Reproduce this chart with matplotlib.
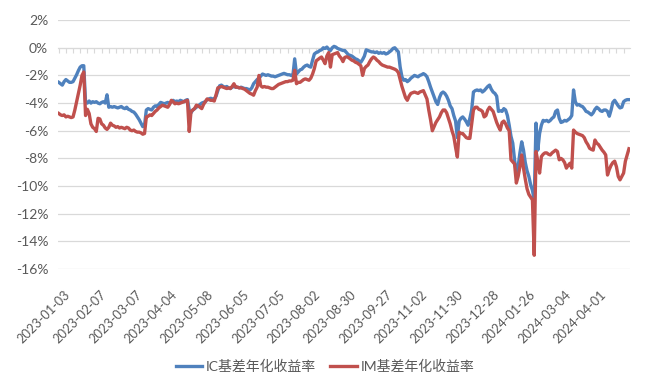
import matplotlib
matplotlib.use('Agg')
import matplotlib.pyplot as plt
import matplotlib.transforms as mtransforms
import numpy as np

plt.rcParams['font.family'] = ['Lato', 'Noto Sans CJK SC', 'DejaVu Sans']

# tick labels every 20 trading days
date_labels = ['2023-01-03', '2023-02-07', '2023-03-07', '2023-04-04', '2023-05-08',
               '2023-06-05', '2023-07-05', '2023-08-02', '2023-08-30', '2023-09-27',
               '2023-11-02', '2023-11-30', '2023-12-28', '2024-01-26', '2024-03-04',
               '2024-04-01']

# IC basis annualised return (%), one value per trading day
ic = [
    -2.5, -2.6, -2.7, -2.45, -2.3, -2.4, -2.5, -2.5, -2.45, -2.2,
    -1.95, -1.65, -1.4, -1.3, -1.3, -3.95, -4.0, -3.85, -4.0, -3.9,
    -3.95, -3.9, -4.0, -4.05, -3.95, -3.9, -4.0, -3.4, -4.3, -4.25,
    -4.3, -4.25, -4.3, -4.35, -4.3, -4.25, -4.35, -4.4, -4.3, -4.45,
    -4.5, -4.6, -4.65, -4.8, -5.0, -5.2, -5.45, -5.7, -5.6, -4.5,
    -4.4, -4.45, -4.5, -4.3, -4.2, -4.25, -4.1, -3.95, -4.0, -4.05,
    -4.0, -3.95, -4.05, -3.9, -3.8, -3.9, -3.85, -3.9, -3.8, -3.85,
    -3.9, -3.8, -3.75, -4.5, -4.7, -4.5, -4.4, -4.3, -4.2, -4.1,
    -4.0, -3.95, -3.9, -3.75, -3.7, -3.65, -3.7, -3.7, -3.5, -3.1,
    -2.75, -2.7, -2.8, -2.85, -2.8, -2.9, -2.95, -2.85, -2.8, -2.85,
    -2.85, -2.9, -2.85, -2.9, -2.95, -2.95, -3.0, -3.05, -2.9, -2.6,
    -2.45, -2.3, -2.2, -2.05, -1.9, -1.95, -2.0, -1.95, -2.0, -2.05,
    -2.05, -2.1, -2.05, -2.0, -1.95, -1.9, -1.85, -1.9, -1.95, -1.95,
    -2.0, -2.0, -0.8, -1.9, -1.75, -1.6, -1.55, -1.4, -1.3, -1.25,
    -1.35, -1.4, -0.9, -0.45, -0.35, -0.3, -0.2, -0.15, 0.0, -0.05,
    0.05, -0.1, -0.2, 0.0, 0.1, 0.05, -0.05, -0.1, -0.15, -0.2,
    -0.2, -0.35, -0.5, -0.55, -0.6, -0.7, -0.8, -0.85, -0.95, -1.05,
    -0.85, -0.6, -0.15, -0.2, -0.25, -0.3, -0.3, -0.35, -0.3, -0.4,
    -0.35, -0.4, -0.35, -0.45, -0.4, -0.3, -0.2, -0.05, 0.0, -0.15,
    -0.3, -1.4, -2.1, -2.35, -2.3, -2.45, -2.35, -2.2, -2.1, -2.0,
    -2.05, -2.1, -2.0, -1.95, -1.87, -1.95, -2.1, -2.45, -2.85, -3.2,
    -3.55, -3.9, -4.1, -3.6, -3.3, -3.2, -3.3, -3.5, -3.8, -4.2,
    -4.4, -4.9, -5.3, -6.5, -5.3, -5.1, -5.0, -5.15, -5.35, -5.6,
    -5.1, -4.5, -3.2, -3.1, -3.05, -3.1, -3.05, -3.2, -3.1, -2.95,
    -2.8, -2.7, -3.0, -3.2, -3.3, -3.5, -4.6, -4.55, -4.6, -4.4,
    -4.5, -4.9, -5.6, -6.4, -6.9, -8.1, -9.0, -8.6, -7.6, -6.8,
    -7.4, -8.3, -8.9, -9.3, -9.9, -10.3, -11.0, -5.45, -7.4, -6.2,
    -5.6, -5.25, -5.3, -5.25, -5.35, -5.25, -5.1, -5.0, -4.6, -4.5,
    -5.1, -5.4, -5.35, -5.25, -5.3, -5.2, -5.1, -4.9, -3.05, -3.9,
    -4.15, -4.1, -4.2, -4.25, -4.4, -4.6, -4.65, -4.75, -4.85, -4.7,
    -4.45, -4.3, -4.4, -4.55, -4.6, -4.5, -4.5, -4.6, -4.95, -4.5,
    -3.95, -3.8, -4.0, -4.2, -4.35, -4.3, -3.9, -3.8, -3.75, -3.75,
]

# IM basis annualised return (%)
im = [
    -4.75, -4.85, -4.9, -4.85, -5.0, -4.95, -5.0, -5.05, -5.0, -4.5,
    -3.9, -3.3, -2.7, -2.0, -1.75, -4.9, -4.45, -4.75, -5.5, -5.75,
    -5.85, -6.05, -5.1, -5.15, -5.5, -5.6, -5.8, -5.9, -5.75, -5.45,
    -5.6, -5.65, -5.75, -5.7, -5.8, -5.75, -5.8, -5.85, -5.75, -5.8,
    -5.95, -6.0, -5.95, -6.05, -6.1, -6.1, -6.15, -6.25, -6.2, -5.0,
    -4.95, -4.85, -4.9, -4.75, -4.6, -4.5, -4.35, -4.25, -4.15, -4.2,
    -4.25, -4.3, -4.1, -3.8, -3.9, -4.05, -4.0, -4.05, -4.0, -3.95,
    -3.9, -3.85, -3.8, -6.05, -4.6, -4.5, -4.4, -4.15, -4.2, -4.3,
    -4.4, -4.1, -3.9, -3.7, -3.75, -3.8, -3.8, -3.85, -3.4, -2.9,
    -2.85, -2.8, -2.85, -2.9, -2.95, -2.9, -2.95, -2.8, -2.6, -2.85,
    -2.85, -2.9, -2.9, -2.95, -3.0, -3.1, -3.2, -3.3, -3.35, -3.43,
    -3.1, -2.85, -2.0, -2.75, -2.85, -2.8, -2.85, -2.85, -2.9, -2.95,
    -2.95, -2.85, -2.75, -2.65, -2.6, -2.55, -2.5, -2.45, -2.45, -2.4,
    -2.4, -2.35, -1.63, -2.6, -2.5, -2.5, -2.4, -2.3, -2.25, -2.3,
    -2.35, -2.2, -1.9, -1.5, -0.95, -0.85, -0.75, -0.67, -0.9, -1.15,
    -0.6, -0.35, -1.4, -0.5, -0.45, -0.4, -0.35, -0.6, -0.75, -1.0,
    -0.7, -0.65, -0.7, -0.8, -0.9, -0.95, -1.05, -1.1, -1.2, -1.3,
    -2.0, -1.5, -1.35, -1.25, -1.0, -0.8, -0.67, -0.75, -0.9, -1.0,
    -1.15, -1.25, -1.3, -1.35, -1.4, -1.4, -1.45, -1.5, -1.55, -1.63,
    -1.8, -2.3, -2.8, -3.2, -3.6, -3.8, -3.5, -3.3, -3.25, -3.2,
    -3.25, -3.3, -3.2, -3.15, -3.1, -3.4, -3.7, -4.5, -5.2, -6.0,
    -5.7, -5.4, -5.2, -5.0, -4.7, -4.5, -4.5, -4.7, -5.1, -5.5,
    -6.0, -6.4, -7.2, -7.9, -6.1, -6.2, -6.2, -6.35, -6.5, -6.55,
    -6.55, -5.5, -4.5, -4.3, -4.3, -4.45, -4.5, -4.6, -5.0, -4.9,
    -4.5, -4.3, -4.45, -4.6, -5.0, -5.4, -5.7, -5.95, -5.4, -5.3,
    -5.5, -5.8, -6.0, -8.1, -8.25, -8.4, -9.78, -9.3, -8.6, -7.75,
    -8.7, -9.5, -10.2, -10.6, -10.8, -11.0, -15.0, -7.5, -8.2, -9.06,
    -7.87, -7.7, -7.6, -7.6, -7.7, -7.75, -7.6, -7.5, -7.4, -7.5,
    -8.1, -8.0, -8.1, -8.3, -8.7, -8.5, -8.35, -8.7, -5.95, -6.1,
    -6.2, -6.25, -6.3, -6.35, -6.5, -6.8, -7.0, -7.27, -7.35, -7.4,
    -6.67, -6.9, -7.0, -7.2, -7.4, -7.55, -7.75, -9.2, -8.8, -8.5,
    -8.3, -8.2, -8.6, -9.3, -9.55, -9.3, -9.06, -8.2, -7.75, -7.3,
]

x = np.arange(len(ic))
label_pos = np.arange(len(date_labels)) * 20

fig = plt.figure(figsize=(6.5, 3.79), dpi=100)
ax = fig.add_axes([0.089, 0.290, 0.880, 0.657])

ax.plot(x, ic, color='#4F81BD', lw=2.4, label='IC基差年化收益率', zorder=3)
ax.plot(x, im, color='#C0504D', lw=2.4, label='IM基差年化收益率', zorder=3)

ax.set_xlim(-0.5, len(ic) - 0.5)
ax.set_ylim(-16, 2)
ax.set_yticks(np.arange(-16, 3, 2))
ax.set_yticklabels([f'{v}%' for v in range(-16, 3, 2)])
ax.grid(axis='y', color='#D9D9D9', lw=0.9, zorder=0)
ax.tick_params(axis='y', length=0, pad=7, labelsize=10, labelcolor='#595959')

for s in ['top', 'right', 'left']:
    ax.spines[s].set_visible(False)
# category axis crosses at 0%
ax.spines['bottom'].set_position(('data', 0))
ax.spines['bottom'].set_color('#D9D9D9')
ax.set_xticks(np.arange(0, len(ic), 4))
ax.tick_params(axis='x', direction='out', length=3.5, color='#D9D9D9',
               labelbottom=False)

# date labels at the bottom edge
sec = ax.secondary_xaxis(0)
sec.set_xticks(label_pos)
sec.set_xticklabels(date_labels, rotation=45, ha='right', va='top',
                    rotation_mode='anchor', fontsize=9.2, color='#595959')
sec.tick_params(length=0, pad=14)
sec.spines['bottom'].set_visible(False)
shift = mtransforms.ScaledTranslation(5 / 100, 0, fig.dpi_scale_trans)
for lab in sec.get_xticklabels():
    lab.set_transform(lab.get_transform() + shift)

leg = fig.legend(loc='center', bbox_to_anchor=(0.5, 0.034), ncol=2, frameon=False,
                 fontsize=10, handlelength=1.9, columnspacing=1.0, handletextpad=0.3)
for t in leg.get_texts():
    t.set_color('#595959')

fig.savefig('out.png', dpi=100)
